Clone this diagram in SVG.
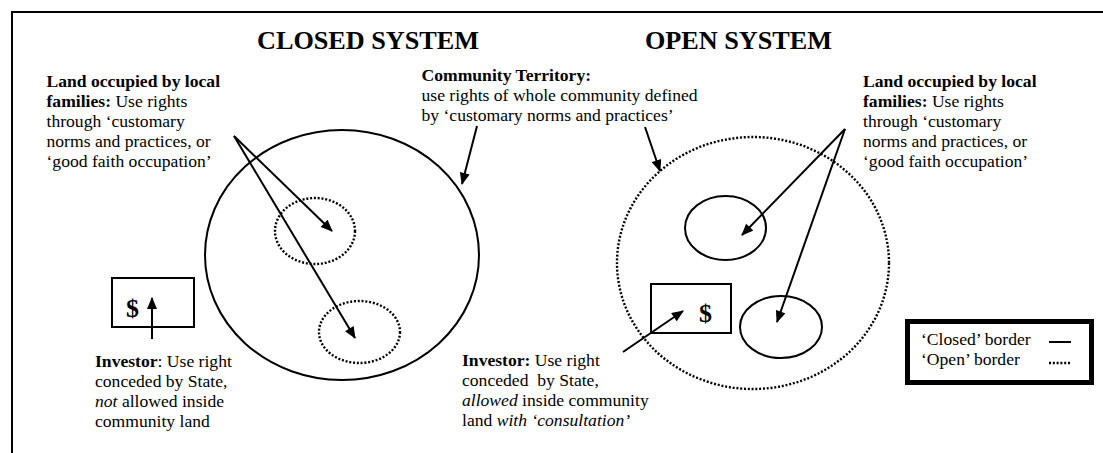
<svg xmlns="http://www.w3.org/2000/svg" width="1103" height="453" viewBox="0 0 1103 453">
<style>
text{font-family:"Liberation Serif","Times New Roman",serif;fill:#000;}
.t{font-size:26.2px;font-weight:bold;}
.b{font-size:17.6px;}
.bd{font-weight:bold;}
.it{font-style:italic;}
.dol{font-size:26px;font-weight:bold;}
.solid{fill:none;stroke:#000;stroke-width:2;}
.dot{fill:none;stroke:#000;stroke-width:2.4;stroke-dasharray:2 1.8;}
.arr{fill:none;stroke:#000;stroke-width:2;marker-end:url(#ah);}
</style>
<defs>
<marker id="ah" viewBox="0 0 12 10" refX="11" refY="5" markerWidth="13" markerHeight="10" markerUnits="userSpaceOnUse" orient="auto">
<path d="M0,0 L12,5 L0,10 Z" fill="#000"/>
</marker>
</defs>
<rect x="0" y="0" width="1103" height="453" fill="#fff"/>
<g id="frame"><rect x="12" y="12" width="1200" height="600" fill="none" stroke="#000" stroke-width="2"/></g>

<g id="titles">
<text class="t" x="257" y="49">CLOSED SYSTEM</text>
<text class="t" x="645" y="49">OPEN SYSTEM</text>
</g>

<g id="closed-territory"><ellipse class="solid" cx="342" cy="255" rx="137" ry="125"/></g>
<g id="closed-family-1"><ellipse class="dot" cx="315" cy="231" rx="40" ry="33"/></g>
<g id="closed-family-2"><ellipse class="dot" cx="359.5" cy="332" rx="40.5" ry="31"/></g>
<g id="closed-investor"><rect class="solid" x="112" y="278" width="82" height="49"/><text class="dol" x="126" y="317">$</text></g>

<g id="open-territory"><ellipse class="dot" cx="753" cy="263" rx="136" ry="126"/></g>
<g id="open-family-1"><ellipse class="solid" cx="725.5" cy="228" rx="40.5" ry="32"/></g>
<g id="open-family-2"><ellipse class="solid" cx="781" cy="327" rx="41" ry="31"/></g>
<g id="open-investor"><rect class="solid" x="651" y="284" width="80" height="49"/><text class="dol" x="699" y="322">$</text></g>

<g id="label-left-families">
<text class="b" x="46.5" y="87"><tspan class="bd">Land occupied by local</tspan></text>
<text class="b" x="46.5" y="107"><tspan class="bd">families:</tspan> Use rights</text>
<text class="b" x="46.5" y="127">through ‘customary</text>
<text class="b" x="46.5" y="147">norms and practices, or</text>
<text class="b" x="46.5" y="167">‘good faith occupation’</text>
</g>
<g id="label-community">
<text class="b" x="421.5" y="81"><tspan class="bd">Community Territory:</tspan></text>
<text class="b" x="421.5" y="101">use rights of whole community defined</text>
<text class="b" x="421.5" y="121">by ‘customary norms and practices’</text>
</g>
<g id="label-right-families">
<text class="b" x="863" y="87"><tspan class="bd">Land occupied by local</tspan></text>
<text class="b" x="863" y="107"><tspan class="bd">families:</tspan> Use rights</text>
<text class="b" x="863" y="127">through ‘customary</text>
<text class="b" x="863" y="147">norms and practices, or</text>
<text class="b" x="863" y="167">‘good faith occupation’</text>
</g>
<g id="label-left-investor">
<text class="b" x="95" y="367"><tspan class="bd">Investor</tspan>: Use right</text>
<text class="b" x="95" y="387">conceded by State,</text>
<text class="b" x="95" y="407"><tspan class="it">not</tspan> allowed inside</text>
<text class="b" x="95" y="427">community land</text>
</g>
<g id="label-right-investor">
<text class="b" x="462" y="366"><tspan class="bd">Investor:</tspan> Use right</text>
<text class="b" x="462" y="386" xml:space="preserve">conceded  by State,</text>
<text class="b" x="462" y="406"><tspan class="it">allowed</tspan> inside community</text>
<text class="b" x="462" y="426">land <tspan class="it">with ‘consultation’</tspan></text>
</g>

<g id="legend">
<rect x="907.5" y="321.5" width="184" height="61" fill="none" stroke="#000" stroke-width="5"/>
<text class="b" x="921" y="345">‘Closed’ border</text>
<text class="b" x="921" y="365">‘Open’ border</text>
<line class="solid" x1="1049" y1="342" x2="1071" y2="342"/>
<line class="dot" x1="1049" y1="363" x2="1071" y2="363"/>
</g>

<g id="connectors">
<line class="arr" x1="234" y1="136" x2="332" y2="231"/>
<line class="arr" x1="234" y1="136" x2="355" y2="338"/>
<line class="arr" x1="477" y1="126" x2="462" y2="184"/>
<line class="arr" x1="152" y1="339" x2="152" y2="298"/>
<line class="arr" x1="645" y1="127" x2="660" y2="171"/>
<line class="arr" x1="845" y1="129" x2="742" y2="235"/>
<line class="arr" x1="845" y1="129" x2="777" y2="322"/>
<line class="arr" x1="623" y1="352" x2="683" y2="311"/>
</g>
</svg>
